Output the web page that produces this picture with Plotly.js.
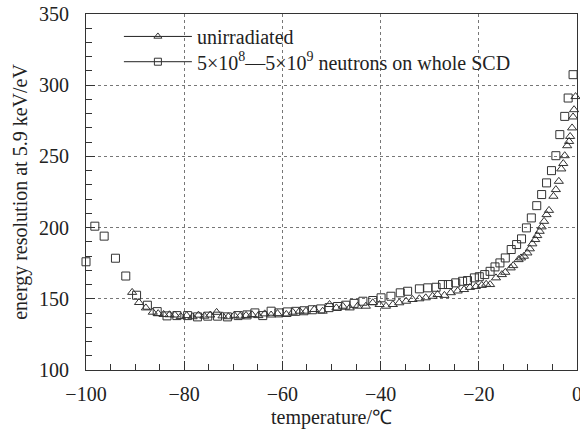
<!DOCTYPE html>
<html><head><meta charset="utf-8">
<script src="https://cdn.plot.ly/plotly-3.0.1.min.js"></script>
<style>body{margin:0;background:#fff}#c{width:580px;height:429px}</style>
</head><body><div id="c"></div>
<script>
// unirradiated (triangles)
var triX = [-90.6,-89.2,-87.8,-86.4,-85.3,-84.2,-83.0,-81.9,-80.7,-79.5,-78.3,-77.1,-75.9,-74.7,-73.4,-72.2,-71.0,-69.8,-68.6,-67.4,-66.2,-64.9,-63.6,-62.3,-61.0,-59.2,-57.9,-56.5,-55.2,-53.5,-51.8,-50.4,-49.0,-47.7,-46.3,-44.7,-43.0,-41.6,-40.2,-38.9,-37.5,-36.2,-34.8,-33.5,-32.1,-30.8,-29.4,-28.4,-27.0,-25.7,-24.3,-23.0,-21.8,-20.6,-19.4,-18.5,-17.7,-16.5,-15.3,-14.6,-13.5,-13.0,-11.9,-11.4,-10.8,-10.1,-9.6,-9.1,-8.5,-8.1,-7.6,-7.2,-6.7,-6.2,-5.7,-4.8,-4.3,-3.7,-3.2,-2.8,-2.5,-2.0,-1.6,-1.4,-1.0,-0.8,-0.6,-0.3];
var triY = [154.5,147.4,143.6,140.6,139.6,139.0,138.8,138.6,137.5,138.2,137.4,138.5,137.8,138.6,140.5,138.0,137.4,138.4,137.8,138.3,138.9,138.2,139.4,138.6,139.6,139.0,140.6,141.3,141.3,142.5,141.3,146.0,143.6,144.8,143.6,144.8,144.8,147.2,146.0,144.8,146.0,147.2,148.3,149.5,150.0,150.7,151.8,153.0,152.4,154.3,155.5,156.5,158.0,158.6,159.4,160.2,160.0,164.7,167.0,168.6,171.7,173.3,177.5,178.7,179.9,182.2,185.1,188.6,191.6,194.4,197.4,200.5,204.4,209.1,212.1,222.0,226.7,232.5,241.2,245.0,250.5,257.5,260.5,264.0,270.0,277.7,282.8,292.0];
// 5e8-5e9 neutrons (squares)
var sqX = [-100,-98.2,-96.3,-94.0,-91.9,-89.7,-87.5,-85.5,-83.5,-81.5,-79.3,-77.3,-75.2,-73.2,-71.2,-69.0,-67.2,-65.6,-64.0,-62.3,-60.7,-59.0,-57.3,-55.6,-53.9,-52.2,-50.5,-48.8,-47.1,-45.4,-43.6,-41.6,-39.9,-37.9,-36.0,-34.5,-32.1,-30.4,-28.7,-27.4,-26.2,-24.7,-23.3,-22.3,-20.9,-19.9,-18.8,-17.7,-16.7,-15.7,-14.6,-13.4,-12.3,-11.3,-10.3,-9.3,-8.2,-7.2,-6.2,-5.2,-4.3,-3.5,-2.5,-1.8,-0.8];
var sqY = [176,201,194,178.5,166,152.5,145.5,141,138,138.2,138.2,137.3,137.8,137.8,137.3,138.2,138.7,140.1,138.2,141.3,140.1,140.8,141.2,141.6,142.3,142.9,143.8,144.6,145.5,146.8,148.3,148.8,150.7,151.8,154.2,155.3,157.0,157.7,158.1,160.0,160.0,161.2,162.3,162.8,164.7,165.5,167.0,169.3,172.4,175.2,178.7,184.6,188.1,192.1,199.8,206.8,215.4,223.2,231.4,240.0,250.5,265.3,278.1,291.0,307.4];
var names = ["unirradiated", "5×10<sup>8</sup>—5×10<sup>9</sup> neutrons on whole SCD"];
var xTicks = [-100,-80,-60,-40,-20,0];
var yTicks = [100,150,200,250,300,350];

var font = {family: '"Liberation Serif", "Times New Roman", Times, serif', size: 20, color: "#222"};
var traces = [
  {x: triX, y: triY, mode: "markers", showlegend: false, cliponaxis: false,
   marker: {symbol: "triangle-up-open", size: 8, color: "#333", line: {width: 1}}},
  {x: sqX, y: sqY, mode: "markers", showlegend: false, cliponaxis: false,
   marker: {symbol: "square-open", size: 8, color: "#333", line: {width: 1}}},
  {x: [null], y: [null], mode: "lines+markers", name: names[0], legend: "legend",
   line: {color: "#222", width: 1}, marker: {symbol: "triangle-up-open", size: 7, color: "#333", line: {width: 1}}},
  {x: [null], y: [null], mode: "lines+markers", name: names[1], legend: "legend2",
   line: {color: "#222", width: 1}, marker: {symbol: "square-open", size: 7, color: "#333", line: {width: 1}}}
];
var axBase = {showline: true, linecolor: "#333", linewidth: 1, mirror: true,
  ticks: "inside", ticklen: 9, tickcolor: "#333", zeroline: false,
  showgrid: true, gridcolor: "#777", griddash: "dot", gridwidth: 1,
  tickfont: font, ticklabeloverflow: "allow"};
var legBase = {x: 0.067, xanchor: "left", yanchor: "middle", bgcolor: "rgba(255,255,255,0)",
  itemwidth: 68, font: font};
var layout = {
  width: 580, height: 429,
  margin: {l: 86, r: 3, t: 14, b: 59},
  paper_bgcolor: "#fff", plot_bgcolor: "#fff",
  font: font,
  xaxis: Object.assign({}, axBase, {range: [-100, 0], tickvals: xTicks,
    minor: {dtick: 5, ticks: "inside", ticklen: 6, tickcolor: "#333", showgrid: false},
    ticklabelstandoff: 6,
    title: {text: "temperature/℃", font: font, standoff: 7}}),
  yaxis: Object.assign({}, axBase, {range: [100, 350], tickvals: yTicks,
    minor: {dtick: 10, ticks: "inside", ticklen: 6, tickcolor: "#333", showgrid: false},
    ticklabelstandoff: 12,
    title: {text: "energy resolution at 5.9 keV/eV", font: font, standoff: 6}}),
  legend: Object.assign({}, legBase, {y: 0.937}),
  legend2: Object.assign({}, legBase, {y: 0.866}),
  showlegend: true
};
Plotly.newPlot("c", traces, layout, {staticPlot: true, displayModeBar: false});
</script></body></html>
